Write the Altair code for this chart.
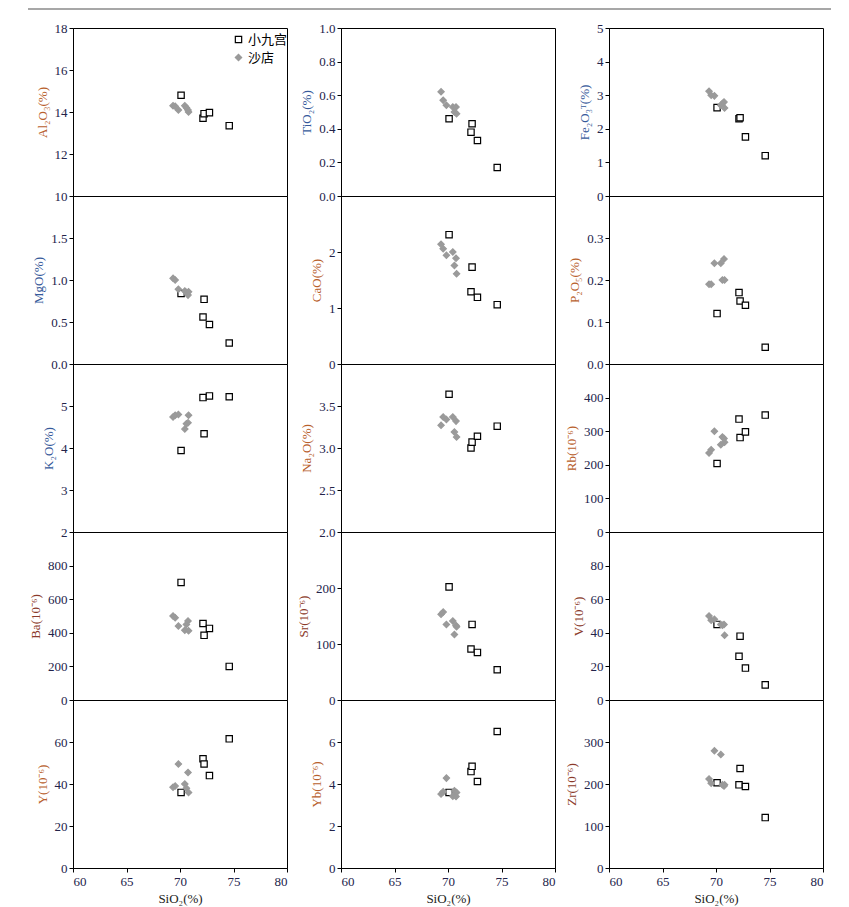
import altair as alt
import pandas as pd

groups = ["小九宫", "沙店"]

# SiO2 (%) of each sample
sio2_xjg = [70.1, 72.15, 72.25, 72.75, 74.6]
sio2_sd = [69.35, 69.55, 69.85, 70.45, 70.6, 70.75, 70.8]

# major elements (%)
al2o3_xjg = [14.8, 13.70, 13.92, 13.97, 13.35]
al2o3_sd = [14.3, 14.27, 14.1, 14.3, 14.2, 14.1, 14.0]
tio2_xjg = [0.46, 0.38, 0.43, 0.33, 0.17]
tio2_sd = [0.62, 0.57, 0.54, 0.53, 0.50, 0.53, 0.49]
fe2o3_xjg = [2.63, 2.30, 2.33, 1.76, 1.20]
fe2o3_sd = [3.12, 3.0, 2.98, 2.7, 2.75, 2.8, 2.62]
mgo_xjg = [0.84, 0.56, 0.77, 0.47, 0.25]
mgo_sd = [1.02, 1.0, 0.89, 0.87, 0.85, 0.82, 0.86]
cao_xjg = [2.31, 1.29, 1.73, 1.19, 1.06]
cao_sd = [2.14, 2.06, 1.94, 2.0, 1.76, 1.89, 1.61]
p2o5_xjg = [0.12, 0.17, 0.15, 0.14, 0.04]
p2o5_sd = [0.19, 0.19, 0.24, 0.24, 0.20, 0.25, 0.20]
k2o_xjg = [3.94, 5.2, 4.34, 5.24, 5.22]
k2o_sd = [4.74, 4.78, 4.80, 4.45, 4.58, 4.6, 4.78]
na2o_xjg = [3.64, 3.0, 3.07, 3.14, 3.26]
na2o_sd = [3.27, 3.37, 3.34, 3.37, 3.19, 3.32, 3.13]

# trace elements (10^-6)
rb_xjg = [204, 336, 281, 298, 348]
rb_sd = [235, 245, 300, 260, 283, 278, 267]
ba_xjg = [700, 455, 385, 426, 200]
ba_sd = [500, 490, 440, 415, 450, 470, 412]
sr_xjg = [202, 91, 135, 85, 54]
sr_sd = [153, 157, 135, 141, 117, 133, 131]
v_xjg = [45, 26, 38, 19, 9]
v_sd = [50, 47.5, 48, 45, 44.5, 45, 38.5]
y_xjg = [36, 52, 49.5, 44, 61.5]
y_sd = [38.5, 39, 49.5, 40, 38, 45.5, 36]
yb_xjg = [3.6, 4.59, 4.84, 4.12, 6.5]
yb_sd = [3.52, 3.63, 4.28, 3.42, 3.68, 3.40, 3.6]
zr_xjg = [203, 198, 237, 194, 120]
zr_sd = [212, 202, 279, 270, 198, 195, 198]

x_ticks = [60, 65, 70, 75, 80]

ORANGE = "#b8602c"
BLUE = "#35599a"
BROWN = "#8b3a2a"

# panels in reading order (row by row): title, xjg values, sd values, y ticks, format, colour
panels_spec = [
    ("Al₂O₃(%)", al2o3_xjg, al2o3_sd, [10, 12, 14, 16, 18], "d", ORANGE),
    ("TiO₂(%)", tio2_xjg, tio2_sd, [0, 0.2, 0.4, 0.6, 0.8, 1.0], ".1f", BLUE),
    ("Fe₂O₃ᵀ(%)", fe2o3_xjg, fe2o3_sd, [0, 1, 2, 3, 4, 5], "d", BLUE),
    ("MgO(%)", mgo_xjg, mgo_sd, [0, 0.5, 1.0, 1.5, 2.0], ".1f", BLUE),
    ("CaO(%)", cao_xjg, cao_sd, [0, 1, 2, 3], "d", ORANGE),
    ("P₂O₅(%)", p2o5_xjg, p2o5_sd, [0, 0.1, 0.2, 0.3, 0.4], ".1f", ORANGE),
    ("K₂O(%)", k2o_xjg, k2o_sd, [2, 3, 4, 5, 6], "d", BLUE),
    ("Na₂O(%)", na2o_xjg, na2o_sd, [2.0, 2.5, 3.0, 3.5, 4.0], ".1f", ORANGE),
    ("Rb(10⁻⁶)", rb_xjg, rb_sd, [0, 100, 200, 300, 400, 500], "d", ORANGE),
    ("Ba(10⁻⁶)", ba_xjg, ba_sd, [0, 200, 400, 600, 800, 1000], "d", BROWN),
    ("Sr(10⁻⁶)", sr_xjg, sr_sd, [0, 100, 200, 300], "d", BROWN),
    ("V(10⁻⁶)", v_xjg, v_sd, [0, 20, 40, 60, 80, 100], "d", BROWN),
    ("Y(10⁻⁶)", y_xjg, y_sd, [0, 20, 40, 60, 80], "d", ORANGE),
    ("Yb(10⁻⁶)", yb_xjg, yb_sd, [0, 2, 4, 6, 8], "d", ORANGE),
    ("Zr(10⁻⁶)", zr_xjg, zr_sd, [0, 100, 200, 300, 400], "d", BROWN),
]

W = 214
H = 168
SPACING = 54

shape_scale = alt.Scale(domain=groups, range=["square", "diamond"])
fill_scale = alt.Scale(domain=groups, range=["white", "#9a9a9a"])
stroke_scale = alt.Scale(domain=groups, range=["black", "#9a9a9a"])


def panel(spec, row, first):
    title, xjg, sd, ticks, fmt, color = spec
    df = pd.DataFrame({
        "SiO2": sio2_xjg + sio2_sd,
        "value": xjg + sd,
        "group": [groups[0]] * len(xjg) + [groups[1]] * len(sd),
    })
    axis_vals = ticks if row == 0 else ticks[:-1]
    if row == 4:
        x_axis = alt.Axis(values=x_ticks, title="SiO₂(%)", format="d",
                          titleColor="#222222", labelColor="#23234a",
                          labelPadding=3, titlePadding=4)
    else:
        x_axis = None
    if first:
        leg = alt.Legend(title=None, orient="none", legendX=159, legendY=24,
                         labelFont="Noto Sans CJK SC", labelFontSize=13,
                         labelColor="black", symbolSize=40, symbolStrokeWidth=1.2,
                         rowPadding=4, labelOffset=3)
    else:
        leg = None
    return alt.Chart(df).mark_point(size=40, opacity=1, strokeWidth=1.2).encode(
        x=alt.X("SiO2:Q", scale=alt.Scale(domain=[60, 80], nice=False, zero=False), axis=x_axis),
        y=alt.Y("value:Q", scale=alt.Scale(domain=[ticks[0], ticks[-1]], nice=False, zero=False),
                axis=alt.Axis(values=axis_vals, format=fmt, title=title, titleColor=color)),
        shape=alt.Shape("group:N", scale=shape_scale, legend=leg),
        fill=alt.Fill("group:N", scale=fill_scale, legend=leg),
        stroke=alt.Stroke("group:N", scale=stroke_scale, legend=leg),
    ).properties(width=W, height=H)


panels = [panel(spec, i // 3, i == 0) for i, spec in enumerate(panels_spec)]
grid = alt.concat(*panels, columns=3, spacing={"row": 0, "column": SPACING}, bounds="flush")

top_line = alt.Chart(pd.DataFrame({"a": [0]})).mark_rule(color="#8a8a8a", strokeWidth=1.5).encode(
    x=alt.value(-45), x2=alt.value(3 * W + 2 * SPACING + 8), y=alt.value(0)
).properties(width=3 * W + 2 * SPACING, height=1, view=alt.ViewBackground(strokeOpacity=0))

chart = alt.vconcat(top_line, grid, spacing=18, bounds="flush").properties(
    padding={"left": 19, "top": 0, "right": 5, "bottom": 5}
).configure_axis(
    labelFont="Liberation Serif", labelFontSize=13, labelColor="#23234a",
    titleFont="Liberation Serif", titleFontSize=13, titleFontWeight="normal",
    tickSize=4, tickColor="black", domainColor="black", grid=False,
    labelPadding=2, titlePadding=5,
).configure_view(stroke="black", strokeWidth=1).configure_legend(
    labelFont="Noto Sans CJK SC"
)

chart.save("out.html", embed_options={"renderer": "svg", "actions": False})
